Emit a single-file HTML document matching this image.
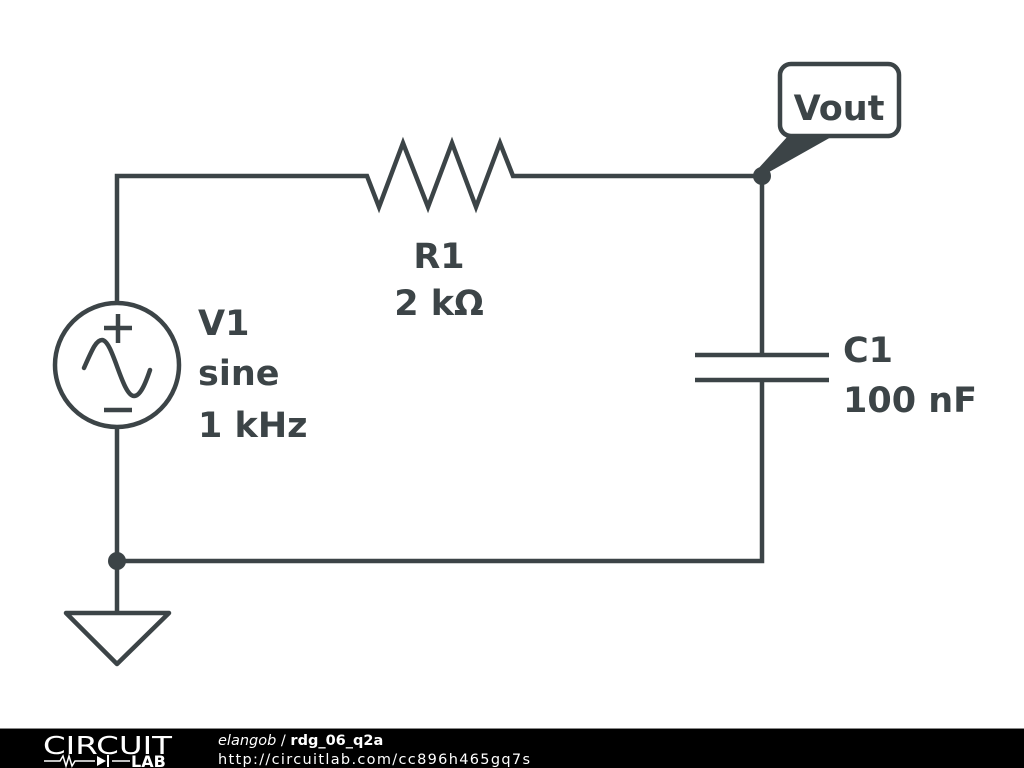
<!DOCTYPE html>
<html><head><meta charset="utf-8"><style>
html,body{margin:0;padding:0;background:#fff;}
svg{display:block;}
</style></head><body>
<svg width="1024" height="768" viewBox="0 0 1024 768" xmlns="http://www.w3.org/2000/svg">
<g stroke="#3c4447" stroke-width="4.5" fill="none" stroke-linejoin="miter">
<polyline points="117,303 117,176 367,176 379,207 403,143 428,207 452,143 476,207 500,143 513,176 762,176 762,355"/>
<line x1="695" y1="355" x2="829" y2="355"/>
<line x1="695" y1="380" x2="829" y2="380"/>
<polyline points="762,380 762,561 117,561"/>
<line x1="117" y1="427" x2="117" y2="613"/>
<polygon points="66,613 169,613 117,664" stroke-linejoin="round"/>
<circle cx="117" cy="365" r="62"/>
<line x1="118" y1="314" x2="118" y2="343"/>
<line x1="104" y1="328" x2="132" y2="328"/>
<line x1="104" y1="410" x2="132" y2="410"/>
<path d="M84,368 C92,350 96,340 102,340 C113,340 122,396 134,396 C140,396 145,385 150,370" stroke-linecap="round"/>
<rect x="780" y="64" width="119" height="72" rx="11" fill="#fff"/>
</g>
<polygon points="788,136 833,136 762,176 757,170" fill="#3c4447"/>
<circle cx="762" cy="176" r="9" fill="#3c4447"/>
<circle cx="117" cy="561" r="9" fill="#3c4447"/>
<g font-family="DejaVu Sans, Liberation Sans, sans-serif" font-weight="bold" font-size="35" fill="#3c4447">
<text x="839" y="120" text-anchor="middle">Vout</text>
<text x="439" y="268" text-anchor="middle">R1</text>
<text x="439" y="315" text-anchor="middle">2 kΩ</text>
<text x="198" y="335">V1</text>
<text x="198" y="385">sine</text>
<text x="198" y="437">1 kHz</text>
<text x="843" y="362">C1</text>
<text x="843" y="412">100 nF</text>
</g>
<rect x="0" y="729" width="1024" height="39" fill="#000"/>
<rect x="0" y="728" width="1024" height="1" fill="#888"/>
<text x="43" y="754" font-family="DejaVu Sans, sans-serif" font-size="25" fill="#fff" font-weight="normal" textLength="129" lengthAdjust="spacingAndGlyphs">CIRCUIT</text>
<g stroke="#fff" stroke-width="1.5" fill="none">
<polyline points="44,761 60,761 63,756 66,766 69,756 72,766 75,761 95,761"/>
<line x1="112" y1="761" x2="130" y2="761"/>
</g>
<polygon points="97,756 97,766 106,761" fill="#fff"/>
<rect x="107" y="755" width="2" height="12" fill="#fff"/>
<text x="131" y="767" font-family="DejaVu Sans, sans-serif" font-weight="bold" font-size="16" fill="#fff">LAB</text>
<text x="218" y="745" font-family="DejaVu Sans, sans-serif" font-size="14.5" fill="#fff"><tspan font-style="italic">elangob</tspan> / <tspan font-weight="bold">rdg_06_q2a</tspan></text>
<text x="218" y="764" font-family="DejaVu Sans, sans-serif" font-size="14.5" fill="#fff" textLength="312">http://circuitlab.com/cc896h465gq7s</text>
</svg>
</body></html>
